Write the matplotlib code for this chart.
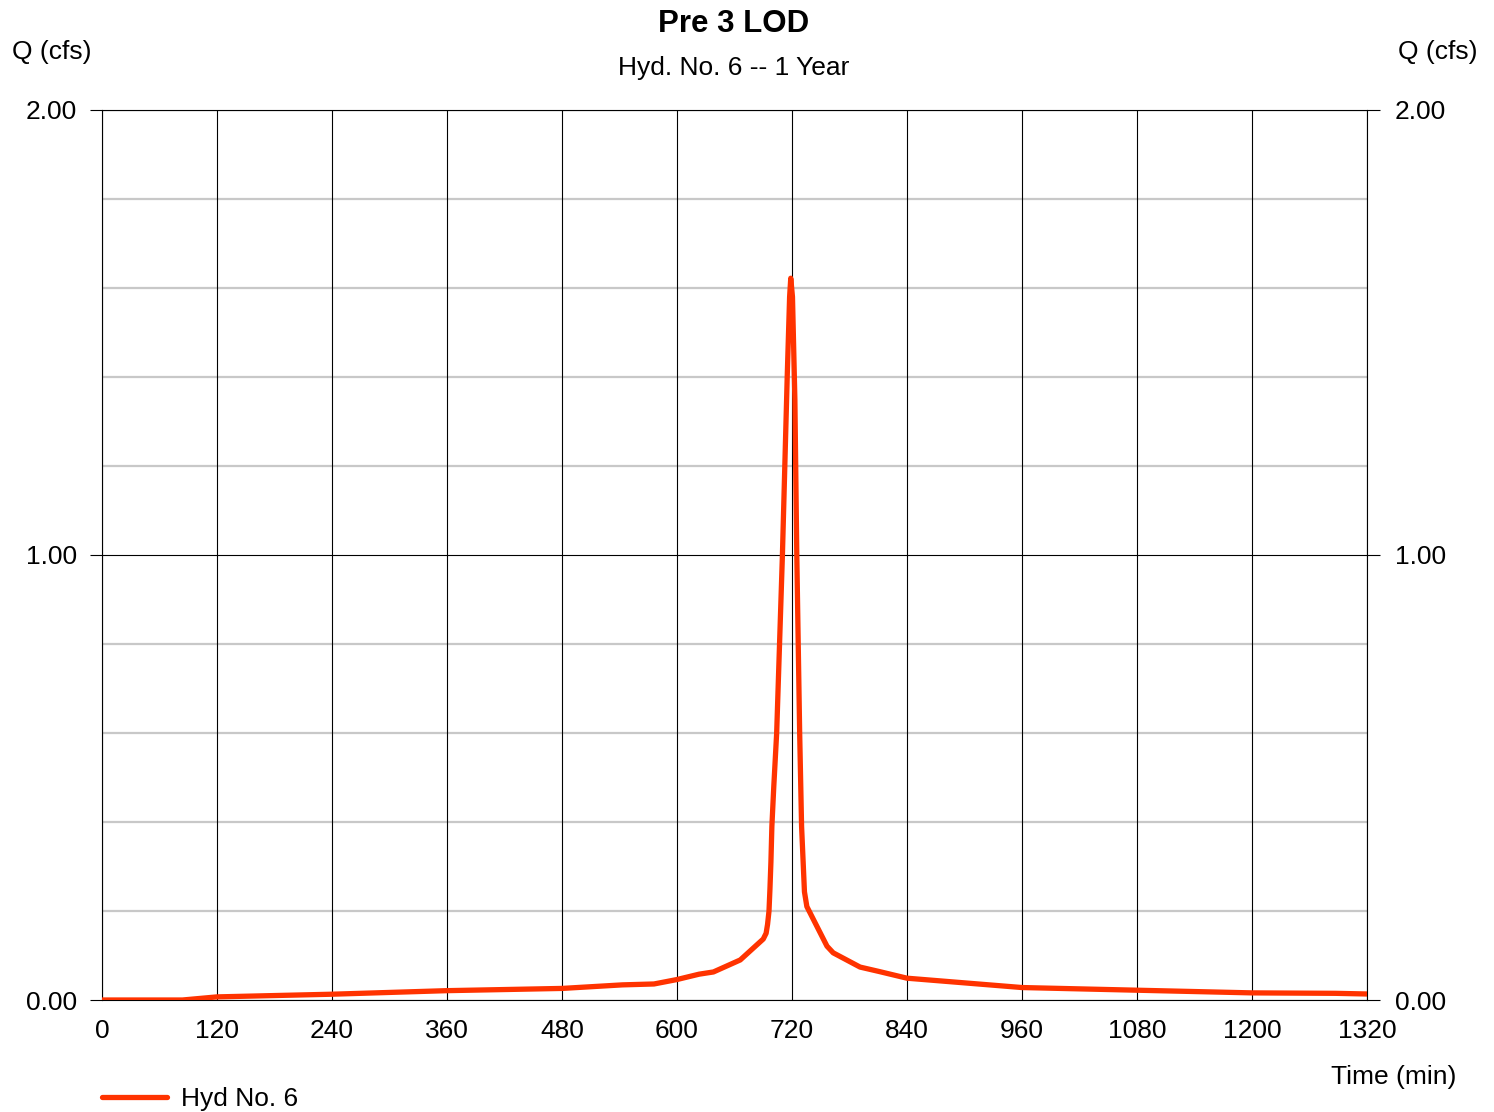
import numpy as np
import matplotlib
matplotlib.use("Agg")
import matplotlib.pyplot as plt

plt.rcParams['font.family'] = ['Liberation Sans', 'DejaVu Sans']

# hydrograph (time in min, Q in cfs)
time_min = [0, 84, 120, 240, 360, 480, 543, 576, 600, 623, 638, 666, 690,
            693, 694.5, 696, 697, 698, 699, 701, 704, 710, 715, 717.5, 718.7,
            720.5, 723, 725, 728, 730, 733, 735.5, 756.5, 763, 791, 811, 840,
            960, 1080, 1200, 1287, 1320]
q_cfs = [0.0, 0.0, 0.007, 0.013, 0.021, 0.026, 0.034, 0.036, 0.046, 0.058,
         0.063, 0.09, 0.137, 0.15, 0.17, 0.20, 0.25, 0.31, 0.39, 0.48, 0.60,
         1.0, 1.40, 1.58, 1.622, 1.58, 1.35, 1.0, 0.60, 0.39, 0.243, 0.21,
         0.121, 0.106, 0.074, 0.064, 0.049, 0.028, 0.022, 0.016, 0.015,
         0.0135]

x_ticks = np.arange(0, 1321, 120)
y_ticks = [0.0, 1.0, 2.0]
y_minor = [0.2, 0.4, 0.6, 0.8, 1.2, 1.4, 1.6, 1.8]

fig = plt.figure(figsize=(14.94, 11.12), dpi=100)
ax = fig.add_axes([102/1494, 1-1000/1112, 1265/1494, 890/1112])

# grid: grey minor rows, black columns and major rows
for y in y_minor:
    ax.axhline(y, color='#c8c8c8', lw=1.6, zorder=1)
for x in x_ticks:
    ax.axvline(x, color='black', lw=0.8, zorder=2)
for y in y_ticks:
    ax.axhline(y, color='black', lw=0.8, zorder=2)

ax.plot(time_min, q_cfs, color='#ff3300', lw=3.8, solid_capstyle='round',
        solid_joinstyle='round', zorder=3, label='Hyd No. 6')

ax.set_xlim(0, 1320)
ax.set_ylim(0, 2)
ax.set_xticks(x_ticks)
ax.set_yticks(y_ticks)
ax.set_yticklabels(['%.2f' % v for v in y_ticks])
ax.tick_params(axis='x', length=0, pad=14, labelsize=19)
ax.tick_params(axis='y', length=9, width=0.8, pad=9, labelsize=19,
               right=True, labelright=True, direction='out')
for t in ax.yaxis.get_major_ticks():
    t.label2.set_x(1.0 + 3/1265)
for s in ax.spines.values():
    s.set_linewidth(0.8)

fig.text(734/1494, 1-24/1112, 'Pre 3 LOD', ha='center', va='center',
         fontsize=22.5, fontweight='bold')
fig.text(734/1494, 1-68/1112, 'Hyd. No. 6 -- 1 Year', ha='center', va='center',
         fontsize=19)
fig.text(12/1494, 1-52/1112, 'Q (cfs)', ha='left', va='center', fontsize=19)
fig.text(1477/1494, 1-52/1112, 'Q (cfs)', ha='right', va='center', fontsize=19)
fig.text(1456/1494, 1-1077/1112, 'Time (min)', ha='right', va='center',
         fontsize=19)

leg = fig.legend(loc='center left', bbox_to_anchor=(102/1494, 1-1099/1112),
                 frameon=False, fontsize=19, handlelength=2.45,
                 handletextpad=0.55, borderpad=0, borderaxespad=0)

fig.savefig('out.png', dpi=100)
